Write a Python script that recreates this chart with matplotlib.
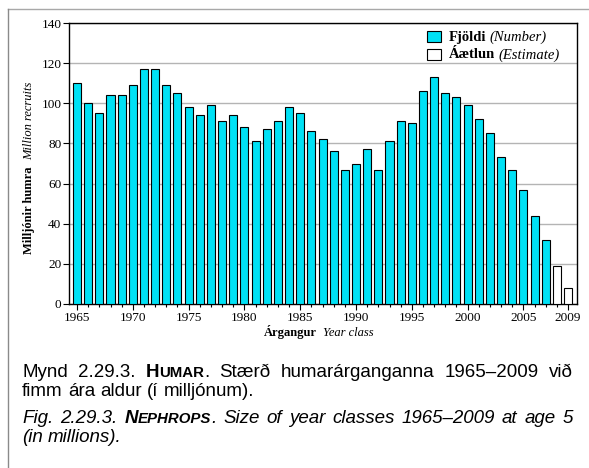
import matplotlib
matplotlib.use("Agg")
import matplotlib.pyplot as plt
from matplotlib.transforms import IdentityTransform
from matplotlib.lines import Line2D
from matplotlib.patches import Rectangle

# Year classes and recruitment (millions of Nephrops at age 5)
years = list(range(1965, 2010))
recruits = [110, 100, 95, 104, 104, 109, 117, 117, 109, 105,
            98, 94, 99, 91, 94, 88, 81, 87, 91, 98,
            95, 86, 82, 76, 67, 70, 77, 67, 81, 91,
            90, 106, 113, 105, 103, 99, 92, 85, 73, 67,
            57, 44, 32, 19, 8]
estimate_years = [2008, 2009]
major_ticks = [1965, 1970, 1975, 1980, 1985, 1990, 1995, 2000, 2005, 2009]
y_ticks = [0, 20, 40, 60, 80, 100, 120, 140]

BAR_COLOR = "#00E1F5"
SERIF = "Liberation Serif"
SANS = "Liberation Sans"

plt.rcParams["font.family"] = SERIF

W, H = 589, 468
fig = plt.figure(figsize=(W / 100, H / 100), dpi=100)
PIX = IdentityTransform()
renderer = fig.canvas.get_renderer()

# axes placed in pixel terms
left, right, top, bottom = 69, 577, 23, 304
ax = fig.add_axes([left / W, (H - bottom) / H, (right - left) / W, (bottom - top) / H])

measured = [(y, v) for y, v in zip(years, recruits) if y not in estimate_years]
estimated = [(y, v) for y, v in zip(years, recruits) if y in estimate_years]

ax.bar([y for y, _ in measured], [v for _, v in measured], width=0.72,
       color=BAR_COLOR, edgecolor="black", linewidth=0.8, zorder=3)
ax.bar([y for y, _ in estimated], [v for _, v in estimated], width=0.72,
       color="white", edgecolor="black", linewidth=0.8, zorder=3)

ax.set_xlim(1964.28, 2009.8)
ax.set_ylim(0, 140)
ax.set_yticks(y_ticks)
ax.set_xticks(major_ticks)
ax.set_xticks(years, minor=True)
ax.tick_params(axis="y", direction="out", length=4, width=0.8, labelsize=9.5, pad=1.5)
ax.tick_params(axis="x", which="major", direction="out", length=4, width=0.8,
               labelsize=9.5, pad=1.5)
ax.tick_params(axis="x", which="minor", direction="out", length=2.5, width=0.8)
for s in ax.spines.values():
    s.set_linewidth(1.0)
ax.yaxis.grid(True, color="#b4b4b4", linewidth=1.0, zorder=0)
ax.set_axisbelow(True)


def run_width(text, props):
    t = fig.text(0, 0, text, transform=PIX, **props)
    w = t.get_window_extent(renderer).width
    t.remove()
    return w


def draw_runs(runs, x, y, align="left", rotation=0, gap=0.0):
    """Draw mixed-style runs along one baseline.

    Horizontal: x is the position along the line, y the baseline (pixels from top).
    Rotated: x is the centre measured from the top, y the baseline column.
    """
    widths = [run_width(t, p) for t, p in runs]
    total = sum(widths) + gap * (len(runs) - 1)
    if rotation == 0:
        pos = x - total / 2 if align == "center" else x
        for (t, p), w in zip(runs, widths):
            fig.text(pos, H - y, t, transform=PIX, va="baseline", ha="left", **p)
            pos += w + gap
    else:
        pos = (H - x) - total / 2
        for (t, p), w in zip(runs, widths):
            fig.text(y, pos, t, transform=PIX, va="baseline", ha="left",
                     rotation=90, rotation_mode="anchor", **p)
            pos += w + gap
    return total


sb = dict(family=SERIF, fontsize=9, weight="bold")
si = dict(family=SERIF, fontsize=9, style="italic")

# axis titles
draw_runs([("Árgangur", sb), ("Year class", si)], 319, 336, align="center", gap=6)
draw_runs([("Milljónir humra", sb), ("Million recruits", si)], 168, 32,
          rotation=90, gap=6)

# legend drawn by hand so each entry can mix bold and italic
lb = dict(family=SERIF, fontsize=10.5, weight="bold")
li = dict(family=SERIF, fontsize=10.5, style="italic")
legend_items = [(BAR_COLOR, "Fjöldi", "(Number)"),
                ("white", "Áætlun", "(Estimate)")]
for i, (fc, name, gloss) in enumerate(legend_items):
    yc = 36.5 + i * 18
    fig.add_artist(Rectangle((427, H - yc - 5.5), 14, 11, transform=PIX,
                             facecolor=fc, edgecolor="black", linewidth=0.8))
    draw_runs([(name, lb), (gloss, li)], 449, yc + 4, gap=3)

# outer frame lines
fig.add_artist(Line2D([8, W], [H - 9, H - 9], transform=PIX,
                      color="#a8a8a8", linewidth=1.0))
fig.add_artist(Line2D([8, 8], [H - 9, 0], transform=PIX,
                      color="#8a8a8a", linewidth=1.0))

# caption, word by word so lines can be justified
CAP_SIZE = 13.5


def draw_line(words, y_img, x0, x1, justify):
    widths = [[run_width(t, p) for t, p in w] for w in words]
    totals = [sum(ws) for ws in widths]
    if justify and len(words) > 1:
        gap = (x1 - x0 - sum(totals)) / (len(words) - 1)
    else:
        gap = run_width("a b", words[0][0][1]) - run_width("ab", words[0][0][1])
    x = x0
    for w, ws in zip(words, widths):
        for (t, p), rw in zip(w, ws):
            fig.text(x, H - y_img, t, transform=PIX, va="baseline", **p)
            x += rw
        x += gap


reg = dict(family=SANS, fontsize=CAP_SIZE)
bold = dict(family=SANS, fontsize=CAP_SIZE, weight="bold")
bold_sm = dict(family=SANS, fontsize=CAP_SIZE * 0.8, weight="bold")
ital = dict(family=SANS, fontsize=CAP_SIZE, style="italic")
bi = dict(family=SANS, fontsize=CAP_SIZE, style="italic", weight="bold")
bi_sm = dict(family=SANS, fontsize=CAP_SIZE * 0.8, style="italic", weight="bold")


def plain(s, p):
    return [[(w, p)] for w in s.split()]


line1 = (plain("Mynd 2.29.3.", reg)
         + [[("H", bold), ("UMAR", bold_sm), (".", reg)]]
         + plain("Stærð humarárganganna 1965–2009 við", reg))
line2 = plain("fimm ára aldur (í milljónum).", reg)
line3 = (plain("Fig. 2.29.3.", ital)
         + [[("N", bi), ("EPHROPS", bi_sm), (".", ital)]]
         + plain("Size of year classes 1965–2009 at age 5", ital))
line4 = plain("(in millions).", ital)

cx0, cx1 = 22, 573
draw_line(line1, 377, cx0, cx1, True)
draw_line(line2, 396, cx0, cx1, False)
draw_line(line3, 423, cx0, cx1, True)
draw_line(line4, 442, cx0, cx1, False)

fig.savefig("out.png", dpi=100)
